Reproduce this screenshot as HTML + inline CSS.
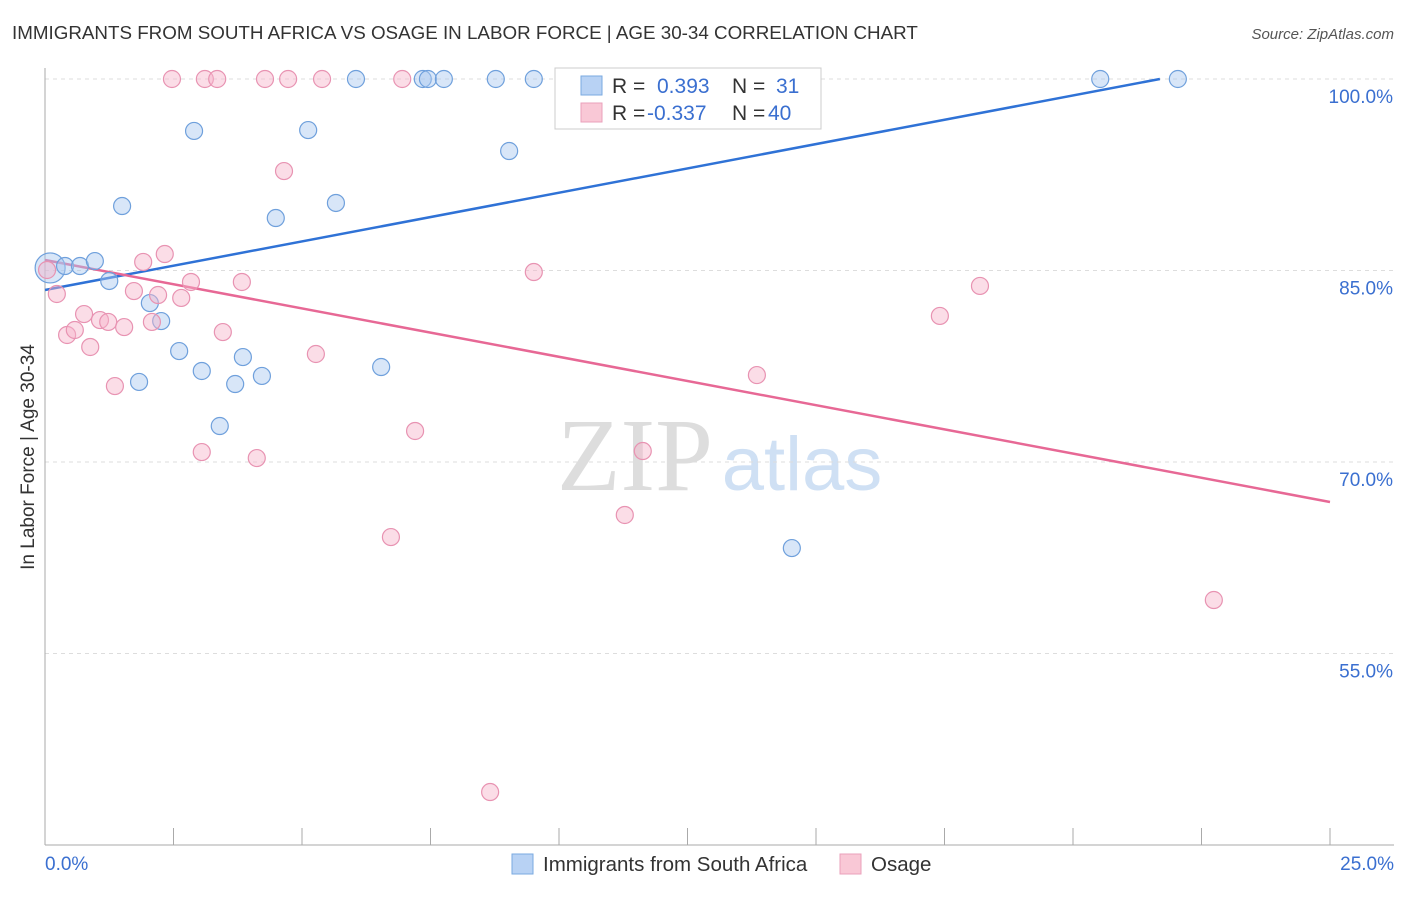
<!DOCTYPE html>
<html><head><meta charset="utf-8"><style>
body{margin:0;background:#fff;font-family:"Liberation Sans",sans-serif;}
</style></head><body>
<svg id="chart" width="1406" height="892" xmlns="http://www.w3.org/2000/svg">
<text x="12" y="39" font-size="18.8" fill="#333">IMMIGRANTS FROM SOUTH AFRICA VS OSAGE IN LABOR FORCE | AGE 30-34 CORRELATION CHART</text>
<text x="1394" y="39" font-size="15" fill="#555" font-style="italic" text-anchor="end">Source: ZipAtlas.com</text>
<text transform="translate(34,457) rotate(-90)" font-size="19" fill="#333" text-anchor="middle">In Labor Force | Age 30-34</text>
<g><text x="635" y="490" font-size="104" fill="#ddd" font-family="Liberation Serif,serif" text-anchor="middle">ZIP</text><text x="802" y="490" font-size="76" fill="#cfe0f4" text-anchor="middle">atlas</text></g>
<g id="grid"></g><g id="axes"></g><g id="trends"></g><g id="points"></g>
<g>
<rect x="555" y="68" width="266" height="61" fill="#fff" stroke="#ccc"/>
<rect x="581" y="76" width="21" height="19" fill="#b8d2f4" stroke="#7aaae0"/>
<rect x="581" y="103" width="21" height="19" fill="#f9c8d6" stroke="#eaa0bb"/>
<text x="612" y="93" font-size="21" fill="#333">R = </text><text x="657" y="93" font-size="21" fill="#3a6fd0">0.393</text>
<text x="732" y="93" font-size="21" fill="#333">N = </text><text x="776" y="93" font-size="21" fill="#3a6fd0">31</text>
<text x="612" y="120" font-size="21" fill="#333">R = </text><text x="647" y="120" font-size="21" fill="#3a6fd0">-0.337</text>
<text x="732" y="120" font-size="21" fill="#333">N = </text><text x="768" y="120" font-size="21" fill="#3a6fd0">40</text>
</g>
<g>
<rect x="512" y="854" width="21" height="20" fill="#b8d2f4" stroke="#7aaae0"/>
<text x="543" y="871" font-size="20.5" fill="#333">Immigrants from South Africa</text>
<rect x="840" y="854" width="21" height="20" fill="#f9c8d6" stroke="#eaa0bb"/>
<text x="871" y="871" font-size="20.5" fill="#333">Osage</text>
</g>
</svg>
<script>
const blueX=[0.1,0.39,0.68,0.97,1.25,1.5,1.83,2.04,2.26,2.61,2.9,3.05,3.4,3.7,3.85,4.22,4.49,5.12,5.66,6.05,6.54,7.35,7.45,7.76,8.77,9.03,9.51,11.28,14.53,20.53,22.04];
const blueY=[85.2,85.35,85.35,85.74,84.18,90.05,76.27,82.45,81.04,78.69,95.93,77.13,72.82,76.11,78.22,76.74,89.11,96.0,90.29,100,77.44,100,100,100,100,94.36,100,100,63.26,100,100];
const pinkX=[0.04,0.23,0.43,0.58,0.76,0.88,1.07,1.23,1.36,1.54,1.73,1.91,2.08,2.2,2.33,2.47,2.65,2.84,3.05,3.11,3.35,3.46,3.83,4.12,4.28,4.65,4.73,5.27,5.39,6.73,6.95,7.2,8.66,9.51,11.28,11.63,13.85,17.41,18.19,22.74];
const pinkY=[85.04,83.16,79.95,80.34,81.59,79.01,81.12,80.97,75.95,80.57,83.39,85.67,80.97,83.08,86.29,100,82.85,84.1,70.78,100,100,80.18,84.1,70.31,100,92.79,100,78.46,100,64.12,100,72.43,44.15,84.88,65.85,70.86,76.81,81.44,83.79,59.19];
const blueTrendX=[0,21.69], blueTrendY=[83.47,100];
const pinkTrendX=[0,25], pinkTrendY=[85.82,66.87];
const yTicks=[100,85,70,55];
const xTicks=[0,2.5,5,7.5,10,12.5,15,17.5,20,22.5,25];
const NS='http://www.w3.org/2000/svg';
const sx=v=>45+v*51.4, sy=v=>79+(100-v)*12.767;
function mk(t,a,p){const e=document.createElementNS(NS,t);for(const k in a)e.setAttribute(k,a[k]);document.getElementById(p).appendChild(e);return e;}
yTicks.forEach(v=>{
 const l=mk('line',{x1:45,x2:1394,y1:sy(v),y2:sy(v),stroke:'#ddd','stroke-dasharray':'4,4'},'grid');
 
 
 const t=mk('text',{x:1393,y:sy(v)+24,'font-size':19,fill:'#3a6fd0','text-anchor':'end'},'axes');t.textContent=v.toFixed(1)+'%';
 
 
});
mk('line',{x1:45,x2:45,y1:68,y2:845,stroke:'#aaa'},'axes');
mk('line',{x1:45,x2:1394,y1:845,y2:845,stroke:'#aaa'},'axes');
xTicks.forEach(v=>{const l=mk('line',{x1:sx(v),x2:sx(v),y1:828,y2:845,stroke:'#aaa'},'axes');
 
 });
let t0=mk('text',{x:45,y:870,'font-size':19,fill:'#3a6fd0'},'axes');t0.textContent='0.0%';


let t1=mk('text',{x:1394,y:870,'font-size':19,fill:'#3a6fd0','text-anchor':'end'},'axes');t1.textContent='25.0%';


function pts(X,Y,fill,stroke,name){X.forEach((x,i)=>{const big=(i===0&&name==='blue-point');const c=mk('circle',{cx:sx(x),cy:sy(Y[i]),r:big?15:8.5,fill:fill,'fill-opacity':0.45,stroke:stroke,'stroke-width':1.2},'points');
 
 });}
pts(blueX,blueY,'#a8c8f0','#6fa0dc','blue-point');
pts(pinkX,pinkY,'#f6b4c9','#e893b2','pink-point');
const bl=mk('line',{x1:sx(blueTrendX[0]),y1:sy(blueTrendY[0]),x2:sx(blueTrendX[1]),y2:sy(blueTrendY[1]),stroke:'#2f72d6','stroke-width':2.5},'trends');


const pl=mk('line',{x1:sx(pinkTrendX[0]),y1:sy(pinkTrendY[0]),x2:sx(pinkTrendX[1]),y2:sy(pinkTrendY[1]),stroke:'#e76895','stroke-width':2.5},'trends');


</script>
</body></html>
